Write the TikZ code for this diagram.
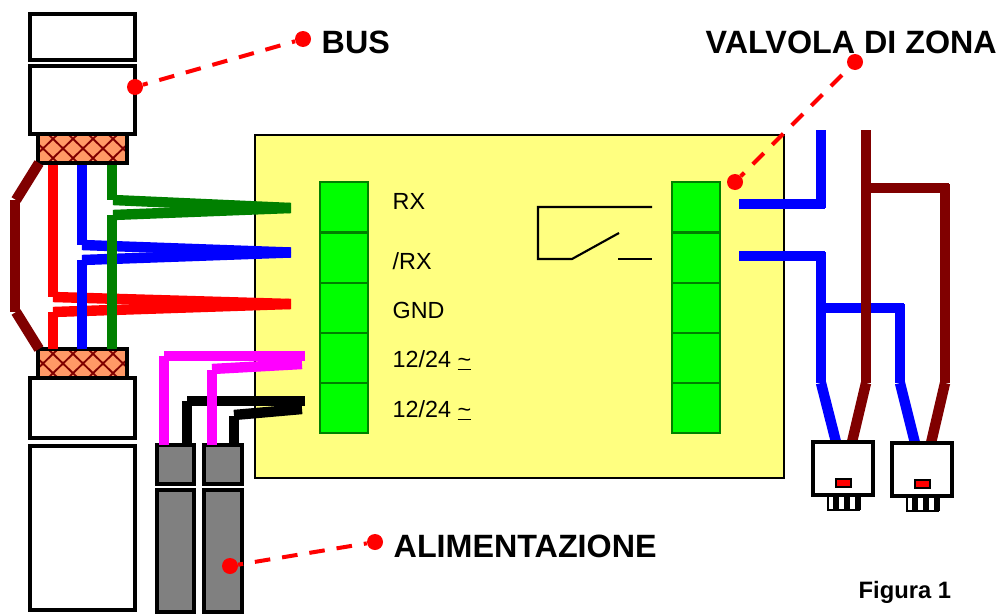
\documentclass[tikz,border=0pt]{standalone}
\usepackage{xcolor}
\usepackage{fontspec}
\setmainfont{Liberation Sans}
\definecolor{board}{HTML}{FFFF80}
\definecolor{term}{HTML}{00FF00}
\definecolor{termline}{HTML}{008000}
\definecolor{wirebrown}{HTML}{800000}
\definecolor{wiregreen}{HTML}{008000}
\definecolor{wirepink}{HTML}{FF00FF}
\definecolor{wirered}{HTML}{FF0000}
\definecolor{wireblue}{HTML}{0000FF}
\definecolor{hatchfill}{HTML}{FF9966}
\tikzset{
  box/.style={draw=black, fill=white, line width=3pt},
  greybox/.style={draw=black, fill=gray, line width=3pt},
  wire/.style={line width=7.8pt},
  callout/.style={draw=wirered, dash pattern=on 11.7pt off 9pt, dash phase=8pt, line width=3pt},
  pt/.style={circle, fill=wirered, inner sep=0pt, minimum size=12pt},
  labm/.style={font=\fontsize{17.5}{20}\selectfont, anchor=west},
  labb/.style={font=\fontsize{24.2}{27}\selectfont\bfseries, anchor=west}
}

\begin{document}
\begin{tikzpicture}[x=0.75pt, y=-0.75pt]
  \useasboundingbox (0,0) rectangle (1002,614);

  % board and its two terminal strips
  \draw[draw=black, fill=board, line width=2pt] (255,135) rectangle (784,478);
  \foreach \sx in {320,672}{
    \draw[draw=termline, fill=term, line width=2.2pt] (\sx,182) rectangle ++(48,251);
    \foreach \sy in {232.5,283,333,383}
      \draw[draw=termline, line width=2.2pt] (\sx,\sy) -- ++(48,0);
  }

  % bus cable, upper and lower parts
  \draw[box] (30,14) rectangle (135,60);
  \draw[box] (30,66) rectangle (135,134);
  \draw[box] (30,378) rectangle (135,438);
  \draw[box] (30,446) rectangle (135,610);
  \foreach \hy in {134,349}{
    \fill[hatchfill] (38,\hy) rectangle ++(89,29);
    \begin{scope}
      \clip (38,\hy) rectangle ++(89,29);
      \foreach \hx in {0,20,...,120}{
        \draw[wirebrown, line width=1.4pt] (\hx+8,\hy) -- ++(30,29);
        \draw[wirebrown, line width=1.4pt] (\hx+38,\hy) -- ++(-30,29);
      }
    \end{scope}
    \draw[draw=black, line width=3pt] (38,\hy) rectangle ++(89,29);
  }

  % shield
  \draw[wire, wirebrown] (39,163) -- (16,200);
  \draw[wire, wirebrown] (15,200) -- (15,312);
  \draw[wire, wirebrown] (16,312) -- (39,349);

  % bus wires
  \coordinate (RX) at (291,208);
  \coordinate (NRX) at (291,252.5);
  \coordinate (GND) at (291,304);
  \draw[wire, wirered] (53,165) -- (53,297);
  \draw[wire, wirered] (53,297) -- (GND);
  \draw[wire, wirered] (53,312) -- (GND);
  \draw[wire, wirered] (53,312) -- (53,349);
  \draw[wire, wireblue] (82,165) -- (82,245);
  \draw[wire, wireblue] (82,245) -- (NRX);
  \draw[wire, wireblue] (82,260) -- (NRX);
  \draw[wire, wireblue] (82,260) -- (82,349);
  \draw[wire, wiregreen] (112,165) -- (112,200);
  \draw[wire, wiregreen] (113,200) -- (RX);
  \draw[wire, wiregreen] (113,215) -- (RX);
  \draw[wire, wiregreen] (112,215) -- (112,349);

  % supply boxes and wires
  \draw[greybox] (157,445) rectangle (194,484);
  \draw[greybox] (204,445) rectangle (242,484);
  \draw[greybox] (157,490) rectangle (194,612);
  \draw[greybox] (204,490) rectangle (242,612);

  \draw[wire, black] (187,445) -- (187,401);
  \draw[wire, black] (187,401) -- (305,401);
  \draw[wire, black] (234,445) -- (234,416);
  \draw[wire, black] (234,415) -- (302,409);
  \draw[wire, wirepink] (164,445) -- (164,356);
  \draw[wire, wirepink] (164,356) -- (305,356);
  \draw[wire, wirepink] (212,445) -- (212,370);
  \draw[wire, wirepink] (212,369) -- (302,364);

  \node[labm] at (388,201) {RX};
  \node[labm] at (388,261) {/RX};
  \node[labm] at (388,310) {GND};
  \node[labm] at (388,360) {12/24 \underline{\textasciitilde}};
  \node[labm] at (388,410) {12/24 \underline{\textasciitilde}};

  % relay
  \draw[line width=1.6pt] (652,207) -- (538,207) -- (538,259) -- (572,259) -- (619,233);
  \draw[line width=1.6pt] (618,259) -- (652,259);

  % valve wires
  \draw[wire, wireblue] (739,204) -- (825,204);
  \draw[wire, wireblue] (821,130) -- (821,208);
  \draw[wire, wireblue] (739,256) -- (825,256);
  \draw[wire, wireblue] (821,252) -- (821,383);
  \draw[wire, wireblue] (821,308) -- (904,308);
  \draw[wire, wireblue] (900,304) -- (900,383);
  \draw[wire, wirebrown] (866,130) -- (866,383);
  \draw[wire, wirebrown] (866,188) -- (949,188);
  \draw[wire, wirebrown] (945,184) -- (945,383);
  \draw[wire, wireblue] (821,383) -- (836,442);
  \draw[wire, wirebrown] (866,383) -- (852,442);
  \draw[wire, wireblue] (900,383) -- (915,443);
  \draw[wire, wirebrown] (945,383) -- (931,443);

  % valves
  \foreach \vx/\vy in {813/442,892/443}{
    \draw[draw=black, line width=1.5pt] (\vx+15,\vy+53) rectangle ++(31,15);
    \foreach \tx in {20,31,42}
      \fill[black] (\vx+\tx,\vy+53) rectangle ++(5.5,15);
    \draw[box] (\vx,\vy) rectangle ++(60,53);
    \draw[draw=black, fill=wirered, line width=1.5pt] (\vx+23,\vy+37) rectangle ++(15,8);
  }

  % callouts
  \node[pt] (busA) at (135,87) {};
  \node[pt] (busB) at (303,39) {};
  \draw[callout] (busA) -- (busB);
  \node[pt] (valveA) at (735,182) {};
  \node[pt] (valveB) at (855,62) {};
  \draw[callout] (valveA) -- (valveB);
  \node[pt] (powerA) at (230,566) {};
  \node[pt] (powerB) at (375,542) {};
  \draw[callout] (powerA) -- (powerB);

  \node[labb] at (317,42) {BUS};
  \node[labb] at (701,42) {VALVOLA DI ZONA};
  \node[labb] at (389,546) {ALIMENTAZIONE};
  \node[labm, font=\fontsize{17.8}{20}\selectfont\bfseries] at (854,592) {Figura 1};
\end{tikzpicture}
\end{document}
